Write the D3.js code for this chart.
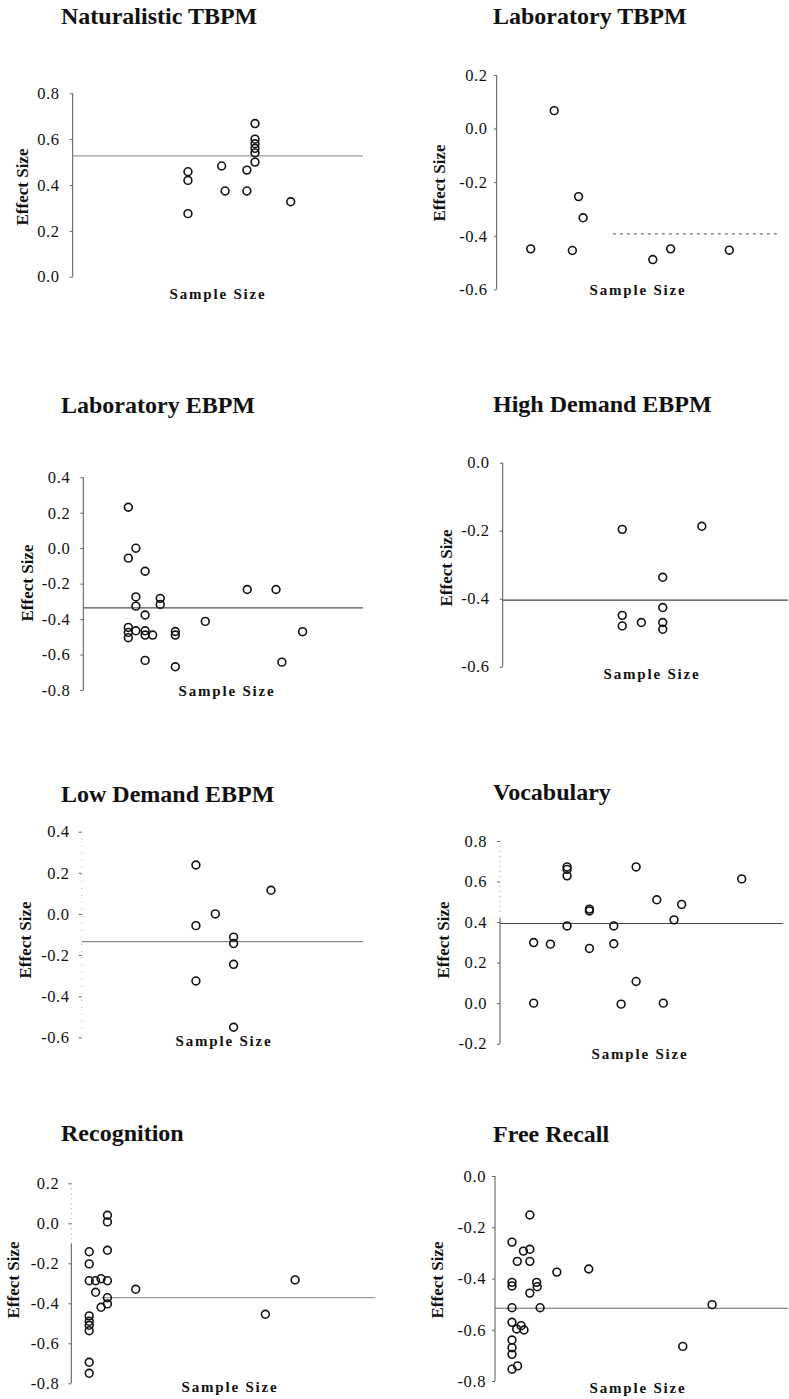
<!DOCTYPE html>
<html lang="en">
<head>
<meta charset="UTF-8">
<title>Effect size by sample size</title>
<script src="https://cdn.jsdelivr.net/npm/d3@7"></script>
<style>
  html, body { margin: 0; padding: 0; background: #fff; }
  svg { display: block; }
  text { font-family: "Liberation Serif", "Times New Roman", serif; fill: #111; }
  .title { font-size: 24px; font-weight: bold; }
  .ylab { font-size: 17px; font-weight: bold; }
  .xlab { font-size: 15px; font-weight: bold; letter-spacing: 1.8px; }
</style>
</head>
<body>
<div id="chart"></div>
<script>
// ---------- data (sample size in relative units 0-100, effect size) ----------
const titles = ["Naturalistic TBPM", "Laboratory TBPM", "Laboratory EBPM", "High Demand EBPM",
                "Low Demand EBPM", "Vocabulary", "Recognition", "Free Recall"];

const natN  = [39.7, 39.7, 39.7, 51.3, 52.5, 60.0, 60.0, 62.8, 62.8, 62.8, 62.8, 62.8, 62.8, 75.1];
const natES = [0.458, 0.42, 0.275, 0.483, 0.374, 0.465, 0.374, 0.668, 0.60, 0.58, 0.56, 0.54, 0.50, 0.327];

const labTbN  = [12.0, 20.3, 26.7, 28.9, 30.5, 55.1, 61.4, 82.1];
const labTbES = [-0.449, 0.067, -0.455, -0.254, -0.333, -0.489, -0.449, -0.454];

const labEbN  = [16.1, 18.8, 16.1, 22.1, 18.8, 18.8, 27.5, 27.5, 22.1, 16.1, 16.1, 16.1, 18.8,
                 22.1, 22.1, 24.8, 32.9, 32.9, 22.1, 32.9, 43.6, 58.6, 68.9, 78.4, 71.0];
const labEbES = [0.231, 0.0, -0.056, -0.13, -0.275, -0.327, -0.283, -0.317, -0.377, -0.447, -0.475, -0.505, -0.466,
                 -0.466, -0.49, -0.49, -0.47, -0.49, -0.633, -0.669, -0.413, -0.233, -0.233, -0.471, -0.643];

const highN  = [41.9, 69.8, 56.1, 56.1, 41.9, 41.9, 48.6, 56.1, 56.1];
const highES = [-0.196, -0.187, -0.337, -0.426, -0.449, -0.48, -0.47, -0.47, -0.49];

const lowN  = [40.6, 67.3, 47.5, 40.6, 54.0, 54.0, 54.0, 40.6, 54.0];
const lowES = [0.238, 0.115, 0.0, -0.057, -0.113, -0.144, -0.245, -0.326, -0.551];

const vocN  = [11.9, 11.9, 17.8, 23.7, 23.7, 23.7, 23.7, 31.6, 31.6, 31.6, 40.2, 40.2, 42.8,
               48.1, 48.1, 55.4, 57.7, 61.5, 64.2, 85.4];
const vocES = [0.299, 0.0, 0.291, 0.672, 0.66, 0.628, 0.381, 0.464, 0.455, 0.27, 0.381, 0.293, -0.005,
               0.672, 0.107, 0.51, 0.0, 0.411, 0.487, 0.613];

const recN  = [5.9, 5.9, 5.9, 5.9, 5.9, 5.9, 5.9, 5.9, 5.9, 8.0, 8.0, 9.8, 9.8,
               11.9, 11.9, 11.9, 11.9, 11.9, 11.9, 21.2, 63.9, 73.7];
const recES = [-0.142, -0.203, -0.287, -0.463, -0.49, -0.51, -0.537, -0.695, -0.75, -0.287, -0.345, -0.277, -0.42,
               0.04, 0.007, -0.135, -0.287, -0.372, -0.403, -0.33, -0.455, -0.283];

const frN  = [5.8, 5.8, 5.8, 5.8, 5.8, 5.8, 5.8, 5.8, 5.8, 7.7, 7.6, 7.4, 8.9, 9.9, 9.7,
              11.9, 11.9, 11.9, 11.9, 14.2, 14.4, 15.4, 21.1, 32.0, 64.1, 74.1];
const frES = [-0.258, -0.415, -0.429, -0.514, -0.571, -0.64, -0.67, -0.696, -0.754, -0.741, -0.333, -0.597, -0.584, -0.601, -0.293,
              -0.152, -0.286, -0.333, -0.457, -0.415, -0.432, -0.514, -0.375, -0.363, -0.665, -0.502];

const meanES = [0.527, -0.393, -0.337, -0.404, -0.135, 0.393, -0.372, -0.516];
const meanFrom = [0, 41, 0, 0, 0, 0, 10, 0];

const yTicks = [
  [0.0, 0.2, 0.4, 0.6, 0.8],
  [-0.6, -0.4, -0.2, 0.0, 0.2],
  [-0.8, -0.6, -0.4, -0.2, 0.0, 0.2, 0.4],
  [-0.6, -0.4, -0.2, 0.0],
  [-0.6, -0.4, -0.2, 0.0, 0.2, 0.4],
  [-0.2, 0.0, 0.2, 0.4, 0.6, 0.8],
  [-0.8, -0.6, -0.4, -0.2, 0.0, 0.2],
  [-0.8, -0.6, -0.4, -0.2, 0.0]
];

const seriesN  = [natN, labTbN, labEbN, highN, lowN, vocN, recN, frN];
const seriesES = [natES, labTbES, labEbES, highES, lowES, vocES, recES, frES];

// ---------- layout (pixels) ----------
// ax: y-axis x, x1: right end of plot, yt/yb: pixel of top/bottom tick
const layout = [
  { ax: 72.7, x1: 363, yt: 93.3,  yb: 276.7,  tx: 61,  ty: 24,   ylx: 22,  yly: 187,  xlx: 218, xly: 294,  pad: 10, mean: "#9a9a9a" },
  { ax: 496.7, x1: 780, yt: 75,   yb: 289.3,  tx: 493, ty: 24,   ylx: 439, yly: 183,  xlx: 638, xly: 290,  pad: 6,  mean: "#777", dash: "3,4" },
  { ax: 83.3, x1: 363, yt: 477.3, yb: 690,    tx: 61,  ty: 413,  ylx: 27,  yly: 583,  xlx: 227, xly: 691,  pad: 10, mean: "#555" },
  { ax: 502.7, x1: 788, yt: 462.7, yb: 666.7, tx: 493, ty: 412,  ylx: 446, yly: 568,  xlx: 652, xly: 674,  pad: 10, mean: "#444" },
  { ax: 81.7, x1: 363, yt: 831.7, yb: 1037.3, tx: 61,  ty: 802,  ylx: 25,  yly: 940,  xlx: 224, xly: 1041, pad: 9,  mean: "#8a8a8a", axis: "dotted" },
  { ax: 500,  x1: 783, yt: 841,   yb: 1043.7, tx: 493, ty: 800,  ylx: 443, yly: 940,  xlx: 640, xly: 1054, pad: 10, mean: "#444", solidFrom: 0.42 },
  { ax: 71.3, x1: 375, yt: 1183.3, yb: 1383.3, tx: 61, ty: 1141, ylx: 13,  yly: 1280, xlx: 230, xly: 1387, pad: 9,  mean: "#999", solidFrom: -0.1 },
  { ax: 495,  x1: 788, yt: 1176,  yb: 1381,   tx: 493, ty: 1142, ylx: 437, yly: 1280, xlx: 638, xly: 1388, pad: 6,  mean: "#666" }
];

const width = 789, height = 1399;
const svg = d3.select("#chart").append("svg")
  .attr("width", width).attr("height", height);

titles.forEach((title, i) => {
  const L = layout[i];
  const ticks = yTicks[i];
  const yMin = d3.min(ticks), yMax = d3.max(ticks);

  const x = d3.scaleLinear().domain([0, 100]).range([L.ax, L.x1]);
  const y = d3.scaleLinear().domain([yMin, yMax]).range([L.yb, L.yt]);

  const g = svg.append("g");

  // title
  g.append("text").attr("class", "title")
    .attr("x", L.tx).attr("y", L.ty).text(title);

  // y axis ticks + labels
  const axis = g.append("g")
    .attr("transform", `translate(${L.ax},0)`)
    .call(d3.axisLeft(y).tickValues(ticks).tickSize(3).tickPadding(L.pad)
      .tickFormat(d => d.toFixed(1)));
  axis.attr("font-family", "Liberation Serif, Times New Roman, serif").attr("font-size", 16.5);
  axis.select(".domain").remove();
  axis.selectAll(".tick line").attr("stroke", "#666");
  axis.selectAll(".tick text").attr("fill", "#111").style("letter-spacing", "0.6px");

  // axis line (some partly dotted, as in the scan)
  if (L.axis === "dotted") {
    g.append("line").attr("x1", L.ax).attr("x2", L.ax).attr("y1", L.yt).attr("y2", L.yb)
      .attr("stroke", "#aaa").attr("stroke-dasharray", "1,6");
  } else if (L.solidFrom !== undefined) {
    const ys = y(L.solidFrom);
    g.append("line").attr("x1", L.ax).attr("x2", L.ax).attr("y1", L.yt).attr("y2", ys)
      .attr("stroke", "#999").attr("stroke-dasharray", "1,4");
    g.append("line").attr("x1", L.ax).attr("x2", L.ax).attr("y1", ys).attr("y2", L.yb)
      .attr("stroke", "#555");
  } else {
    g.append("line").attr("x1", L.ax).attr("x2", L.ax).attr("y1", L.yt).attr("y2", L.yb)
      .attr("stroke", "#555");
  }

  // mean effect size line
  g.append("line")
    .attr("x1", x(meanFrom[i])).attr("x2", x(100))
    .attr("y1", y(meanES[i])).attr("y2", y(meanES[i]))
    .attr("stroke", L.mean).attr("stroke-width", 1.2)
    .attr("stroke-dasharray", L.dash || null);

  // study points
  const pts = seriesN[i].map((n, k) => ({ n: n, es: seriesES[i][k] }));
  g.selectAll("circle").data(pts).enter().append("circle")
    .attr("cx", d => x(d.n)).attr("cy", d => y(d.es))
    .attr("r", 3.9)
    .attr("fill", "none").attr("stroke", "#111").attr("stroke-width", 1.6);

  // axis labels
  g.append("text").attr("class", "ylab")
    .attr("transform", `translate(${L.ylx},${L.yly}) rotate(-90)`)
    .attr("text-anchor", "middle").attr("dominant-baseline", "central")
    .text("Effect Size");

  g.append("text").attr("class", "xlab")
    .attr("x", L.xlx).attr("y", L.xly)
    .attr("text-anchor", "middle").attr("dominant-baseline", "central")
    .text("Sample Size");
});
</script>
</body>
</html>
